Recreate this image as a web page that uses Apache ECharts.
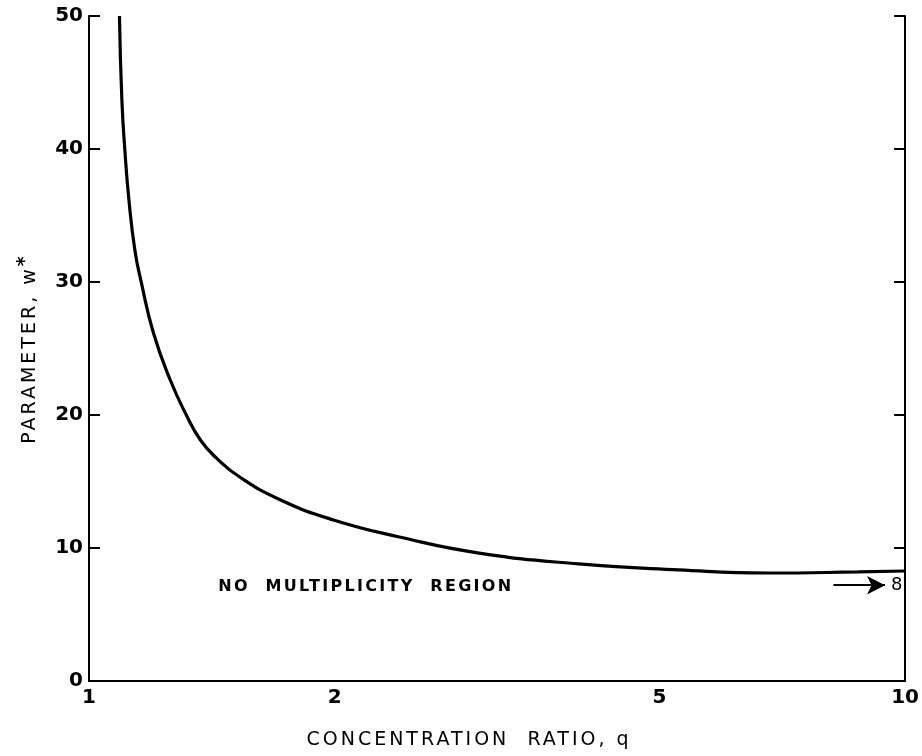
<!DOCTYPE html>
<html>
<head>
<meta charset="utf-8">
<script src="https://cdn.jsdelivr.net/npm/echarts@6/dist/echarts.min.js"></script>
<style>
  html, body { margin: 0; padding: 0; background: #fff; }
  #chart { width: 922px; height: 756px; }
</style>
</head>
<body>
<div id="chart"></div>
<script>
// concentration ratio q (log axis) and parameter w*
const qValues = [1.0897, 1.0972, 1.1065, 1.1192, 1.1381, 1.1595, 1.1995, 1.2577, 1.316, 1.3693, 1.4322, 1.53, 1.717, 1.993, 2.40, 3.006, 3.983, 5.279, 6.80, 8.76, 10]
const wValues = [50, 43.68, 39.92, 36.17, 32.41, 29.92, 26.17, 22.63, 20.0, 18.12, 16.77, 15.34, 13.61, 12.11, 10.83, 9.62, 8.80, 8.35, 8.12, 8.20, 8.27]
const xTickLabels = [1, 2, 5, 10]
const yTicks = [0, 10, 20, 30, 40, 50]

// asymptote arrow (w* -> 8 as q -> infinity) and region label
const arrowFrom = [8.17, 7.2]
const arrowTo = [9.45, 7.2]
const regionLabelAt = [1.44, 7.1]

// the old lettering is widely spaced; canvas letterSpacing keyed on font size
// (measureText honours it, so echarts still lays the text out correctly)
const spacingBySize = { '19px': '3px', '16px': '2.3px' }
const fontDesc = Object.getOwnPropertyDescriptor(CanvasRenderingContext2D.prototype, 'font')
Object.defineProperty(CanvasRenderingContext2D.prototype, 'font', {
  get() { return fontDesc.get.call(this) },
  set(v) {
    fontDesc.set.call(this, v)
    if ('letterSpacing' in this) {
      const m = /(\d+px)/.exec(v)
      this.letterSpacing = (m && spacingBySize[m[1]]) || '0px'
    }
  }
})

const font = 'DejaVu Sans'
const chart = echarts.init(document.getElementById('chart'))

const curve = qValues.map((q, i) => [q, wValues[i]])

chart.setOption({
  backgroundColor: '#fff',
  animation: false,
  grid: {
    left: 89,
    right: 15,
    top: 16,
    bottom: 75
  },
  xAxis: [
    {
      type: 'log',
      logBase: 10,
      min: 1,
      max: 10,
      name: 'CONCENTRATION  RATIO, q',
      nameLocation: 'middle',
      nameGap: 48,
      nameTextStyle: {
        color: '#000',
        fontFamily: font,
        fontSize: 19,
        padding: [0, 56, 0, 0]
      },
      axisLine: { lineStyle: { color: '#000', width: 2 } },
      axisTick: { show: false },
      splitLine: { show: false },
      minorTick: { show: false },
      axisLabel: {
        customValues: xTickLabels,
        color: '#000',
        fontFamily: font,
        fontSize: 20,
        fontWeight: 'bold',
        margin: 7
      }
    },
    {
      type: 'log',
      logBase: 10,
      min: 1,
      max: 10,
      position: 'top',
      axisLine: { lineStyle: { color: '#000', width: 2 } },
      axisTick: { show: false },
      axisLabel: { show: false },
      splitLine: { show: false }
    }
  ],
  yAxis: [
    {
      type: 'value',
      min: 0,
      max: 50,
      interval: 10,
      name: '{t|PARAMETER, w}{s|*}',
      nameLocation: 'middle',
      nameGap: 43,
      nameTextStyle: {
        rich: {
          t: { color: '#000', fontFamily: font, fontSize: 19 },
          s: { color: '#000', fontFamily: font, fontSize: 19, fontWeight: 'bold', verticalAlign: 'top', padding: [0, 0, 10, 0] }
        }
      },
      axisLine: { show: true, lineStyle: { color: '#000', width: 2 } },
      axisTick: { show: true, inside: true, length: 11, lineStyle: { color: '#000', width: 2 } },
      splitLine: { show: false },
      axisLabel: {
        color: '#000',
        fontFamily: font,
        fontSize: 20,
        fontWeight: 'bold',
        margin: 6,
        customValues: yTicks
      }
    },
    {
      type: 'value',
      min: 0,
      max: 50,
      interval: 10,
      position: 'right',
      axisLine: { show: true, lineStyle: { color: '#000', width: 2 } },
      axisTick: { show: true, inside: true, length: 11, lineStyle: { color: '#000', width: 2 } },
      axisLabel: { show: false },
      splitLine: { show: false }
    }
  ],
  series: [
    {
      type: 'line',
      data: curve,
      smooth: 0.5,
      symbol: 'none',
      clip: true,
      lineStyle: { color: '#000', width: 3.2 },
      markLine: {
        silent: true,
        symbol: ['none', 'arrow'],
        symbolSize: [14, 18],
        lineStyle: { color: '#000', width: 2, type: 'solid' },
        label: {
          show: true,
          position: 'end',
          formatter: '8',
          color: '#000',
          fontFamily: font,
          fontSize: 18,
          distance: 6
        },
        data: [[{ coord: arrowFrom }, { coord: arrowTo }]]
      },
      markPoint: {
        silent: true,
        symbol: 'circle',
        symbolSize: 0,
        label: {
          show: true,
          position: 'right',
          formatter: 'NO  MULTIPLICITY  REGION',
          color: '#000',
          fontFamily: font,
          fontSize: 16,
          fontWeight: 'bold',
          distance: 0
        },
        data: [{ coord: regionLabelAt }]
      }
    }
  ]
})
</script>
</body>
</html>
